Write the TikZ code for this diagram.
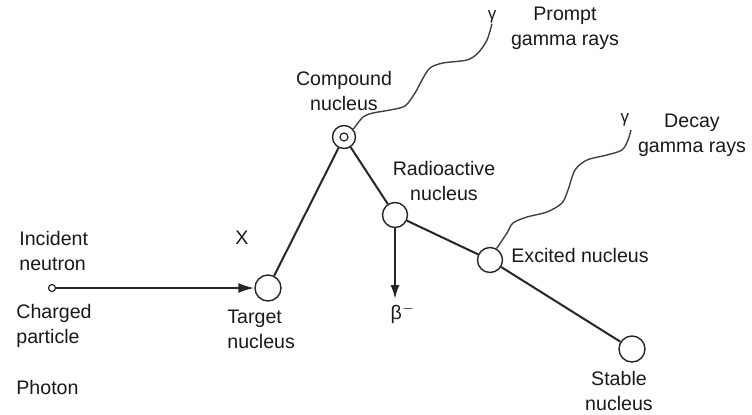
\documentclass[tikz,border=0pt]{standalone}
\usepackage{fontspec}
\setmainfont{Liberation Sans}
\usepackage{tikz}
\usetikzlibrary{arrows.meta}
\newcommand\lbl{\fontsize{9.8}{12.5}\selectfont}
\newcommand\glbl{\fontsize{8.5}{9}\selectfont}

\begin{document}
\begin{tikzpicture}[x=0.5pt,y=-0.5pt,
    every node/.style={inner sep=0pt,font=\lbl,text=black!90},
    nuc/.style={circle,draw=black!85,line width=0.7pt,minimum size=13pt},
    track/.style={line width=1pt,draw=black!85},
    wave/.style={line width=0.7pt,draw=black!75}]
          \useasboundingbox (0,0) rectangle (752,414);
          % labels
          \node[anchor=west,align=left] (inc) at (19,250.5) {Incident\\neutron};
          \node[anchor=west,align=left] (chg) at (16,325.5) {Charged\\particle};
          \node[anchor=west] (pho) at (16,387) {Photon};
          \node (xx) at (242,238) {X};
          \node[anchor=west,align=left] (tgl) at (227,329.5) {Target\\nucleus};
          \node[align=center] (cpl) at (344,90.5) {Compound\\nucleus};
          \node[align=center] (ral) at (444,180.5) {Radioactive\\nucleus};
          \node[anchor=west] (exl) at (511,255) {Excited nucleus};
          \node[align=center] (stl) at (619,391) {Stable\\nucleus};
          \node[align=center] (pgl) at (565,28.5) {Prompt\\gamma rays};
          \node[align=center] (dgl) at (692,135) {Decay\\gamma rays};
          \node[font=\glbl] (gp) at (492,17) {γ};
          \node[font=\glbl] (gd) at (625,120) {γ};
          \node (bl) at (403,314) {β$^{-}$};
          % nuclei
          \node[circle,draw=black!85,line width=0.6pt,minimum size=3.5pt] (src) at (52,288) {};
          \node[nuc] (tg) at (268,288) {};
          \node[nuc,minimum size=11.5pt] (cp) at (344,137) {};
          \node[circle,draw=black!85,line width=0.6pt,minimum size=4pt] (cpin) at (cp) {};
          \node[nuc,minimum size=12.5pt] (ra) at (395,215) {};
          \node[nuc,minimum size=12.5pt] (ex) at (490,260) {};
          \node[nuc] (st) at (632,349) {};
          \coordinate (bt) at (395,299);
          % tracks
          \draw[track,-{Latex[length=8pt,width=5pt]}] (src) -- (tg);
          \draw[track] (tg) -- (cp);
          \draw[track] (cp) -- (ra);
          \draw[track] (ra) -- (ex);
          \draw[track] (ex) -- (st);
          \draw[track,-{Latex[length=7pt,width=4.5pt]}] (ra) -- (bt);
          % gamma rays
          \draw[wave] plot[smooth] coordinates {(cp.40) (363,117) (373,113) (390,110) (405,106)
            (415,93) (422,80) (430,68) (443,63) (467,60) (478,53) (487,40) (gp.south)};
          \draw[wave] plot[smooth] coordinates {(ex.60) (507,233) (513,223) (527,217) (547,212)
            (562,203) (568,190) (575,170) (587,160) (607,155) (622,150) (628,140) (631,130)};
        \end{tikzpicture}
\end{document}
